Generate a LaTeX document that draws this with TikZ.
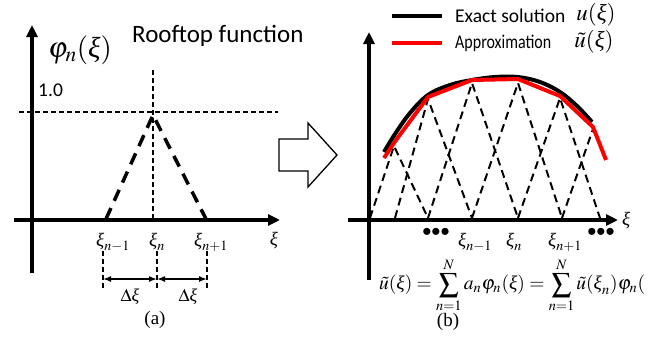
\documentclass[tikz,border=0pt]{standalone}
\usepackage{mathptmx}
\usepackage{amsmath}
\usepackage[no-math]{fontspec}
\setmainfont{Liberation Serif}
\newfontfamily\calibri{Carlito}
\newfontfamily\arialf{Liberation Sans}
\usepackage{graphicx}
\usetikzlibrary{arrows.meta}
\newcommand{\gxi}{\text{\normalfont\itshape ξ}}
\tikzset{
  axis/.style={line width=4pt,-{Triangle[length=12pt,width=11pt]}},
  thindash/.style={line width=1.1pt,dash pattern=on 5pt off 3pt},
  thickdash/.style={line width=3.5pt,dash pattern=on 12pt off 8pt},
  hatdash/.style={line width=2pt,dash pattern=on 8pt off 5pt},
  dimarrow/.style={line width=1.5pt,{Latex[length=8pt,width=6pt]}-{Latex[length=8pt,width=6pt]}},
  lbl/.style={inner sep=0pt,font=\fontsize{19}{21}\selectfont},
  sans/.style={inner sep=0pt,font=\calibri\fontsize{19.5}{22}\selectfont},
  exactline/.style={line width=4pt,black},
  approxline/.style={line width=4pt,red,line join=round},
  dots/.style={inner sep=0pt,font=\arialf\fontsize{26}{28}\selectfont},
}
\begin{document}
\begin{tikzpicture}[x=1pt,y=-1pt]
\useasboundingbox (0,0) rectangle (652,346);
% ---------------- panel (a) ----------------
\coordinate (aYb) at (32,273);
\coordinate (aYt) at (32,25);
\coordinate (aXl) at (14,220);
\coordinate (aXr) at (280,220);
\draw[axis] (aYb) -- (aYt);
\draw[axis] (aXl) -- (aXr);
\coordinate (hl) at (19,112);
\coordinate (hr) at (278,112);
\draw[thindash] (hl) -- (hr);
\coordinate (vt) at (153,70);
\coordinate (vb) at (153,220);
\draw[thindash] (vt) -- (vb);
\coordinate (tl) at (106,219);
\coordinate (tp) at (153,115);
\coordinate (tr) at (206,219);
\draw[thickdash] (tl) -- (tp) -- (tr);
\node[inner sep=0pt,font=\fontsize{29}{32}\selectfont] (phi) at (80,50) {$\varphi_n(\gxi)$};
\node[sans,font=\calibri\fontsize{25}{28}\selectfont,anchor=west] (roof) at (132,36) {Rooftop function};
\node[sans,anchor=west] (one) at (38,90) {1.0};
\node[lbl] (xa1) at (113,242) {$\gxi_{n-1}$};
\node[lbl] (xa2) at (157,242) {$\gxi_{n}$};
\node[lbl] (xa3) at (211,242) {$\gxi_{n+1}$};
\node[lbl] (xa) at (274,241) {$\gxi$};
\coordinate (d1t) at (103,251); \coordinate (d1b) at (103,288);
\coordinate (d2t) at (157,251); \coordinate (d2b) at (157,288);
\coordinate (d3t) at (207,251); \coordinate (d3b) at (207,288);
\draw[thindash] (d1t) -- (d1b);
\draw[thindash] (d2t) -- (d2b);
\draw[thindash] (d3t) -- (d3b);
\coordinate (m1) at (103,279); \coordinate (m2) at (157,279); \coordinate (m3) at (207,279);
\draw[dimarrow] (m1) -- (m2);
\draw[dimarrow] (m2) -- (m3);
\node[lbl,font=\fontsize{18}{20}\selectfont] (dx1) at (130,297) {$\Delta\gxi$};
\node[lbl,font=\fontsize{18}{20}\selectfont] (dx2) at (188,297) {$\Delta\gxi$};
\node[lbl,font=\fontsize{19}{21}\selectfont] (capa) at (155,320) {(a)};
% ---------------- block arrow ----------------
\draw[line width=1.3pt,line join=miter] (279,139) -- (308,139) -- (308,123) -- (337,155) -- (308,187) -- (308,171) -- (279,171) -- cycle;
% ---------------- panel (b) ----------------
\coordinate (bYb) at (369,280);
\coordinate (bYt) at (369,32);
\coordinate (bXl) at (348,220);
\coordinate (bXr) at (618,220);
\draw[axis] (bYb) -- (bYt);
\draw[axis] (bXl) -- (bXr);
\node[lbl,anchor=west] (xb) at (622,221) {$\gxi$};
% feet and peaks
\coordinate (f0) at (370,218);
\coordinate (f1) at (395,218);
\coordinate (f2) at (428,218);
\coordinate (f3) at (472,218);
\coordinate (f4) at (518,218);
\coordinate (f5) at (562,218);
\coordinate (f6) at (600,218);
\coordinate (p1) at (394,146);
\coordinate (p2) at (428,99);
\coordinate (p3) at (472,83);
\coordinate (p4) at (518,83);
\coordinate (p5) at (560,98);
\coordinate (p6) at (593,129);
\draw[hatdash] (f0) -- (p1) -- (f2);
\draw[hatdash] (f1) -- (p2) -- (f3);
\draw[hatdash] (f2) -- (p3) -- (f4);
\draw[hatdash] (f3) -- (p4) -- (f5);
\draw[hatdash] (f4) -- (p5) -- (f6);
\draw[hatdash] (f5) -- (p6);
% exact and approximation
\draw[exactline] plot[smooth,tension=0.6] coordinates {(384,152) (395,134) (410,113) (428,95) (450,85) (472,80) (495,77) (518,77) (540,82) (560,92) (577,106) (592,122)};
\draw[approxline] (384,158) -- (396,140) -- (428,97) -- (472,80) -- (518,79) -- (560,96) -- (593,127) -- (606,160);
% legend
\coordinate (le1) at (392,16); \coordinate (le2) at (442,16);
\coordinate (la1) at (392,43); \coordinate (la2) at (442,43);
\draw[exactline] (le1) -- (le2);
\draw[line width=4pt,red] (la1) -- (la2);
\node[sans,anchor=west] (exact) at (455,16) {Exact solution};
\node[sans,anchor=west] (approx) at (455,43) {\scalebox{0.82}[1]{Approximation}};
\node[inner sep=0pt,font=\fontsize{23}{25}\selectfont] (uex) at (596,15) {$u(\gxi)$};
\node[inner sep=0pt,font=\fontsize{23}{25}\selectfont] (uap) at (594,42) {$\tilde{u}(\gxi)$};
% axis labels
\node[dots] (dl) at (436,234) {•••};
\node[lbl] (xb1) at (475,242) {$\gxi_{n-1}$};
\node[lbl] (xb2) at (514,242) {$\gxi_{n}$};
\node[lbl] (xb3) at (565,242) {$\gxi_{n+1}$};
\node[dots] (dr) at (601,234) {•••};
\node[inner sep=0pt,anchor=west] (formula) at (379,285) {\resizebox{266pt}{!}{$\tilde{u}(\gxi)=\displaystyle\sum_{n=1}^{N}a_n\varphi_n(\gxi)=\sum_{n=1}^{N}\tilde{u}(\gxi_n)\varphi_n($}};
\node[lbl,font=\fontsize{19}{21}\selectfont] (capb) at (448,322) {(b)};
\end{tikzpicture}
\end{document}
